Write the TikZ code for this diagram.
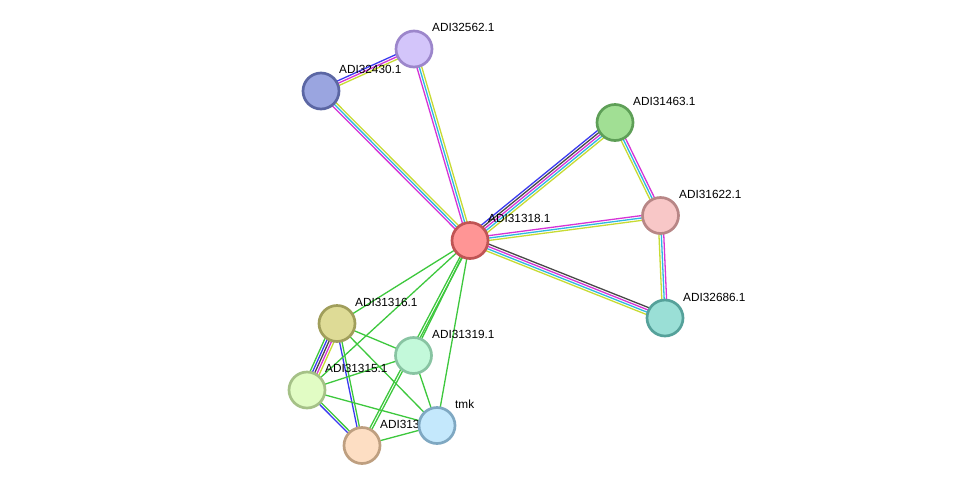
\documentclass[tikz,border=0pt]{standalone}
\usepackage{fontspec}
\setmainfont{Liberation Sans}
\usetikzlibrary{calc}
\pgfdeclarelayer{edges}
\pgfdeclarelayer{labels}
\pgfsetlayers{edges,labels,main}
\definecolor{emag}{HTML}{D633D6}
\definecolor{ecya}{HTML}{2FB8E0}
\definecolor{eyel}{HTML}{C7DB33}
\definecolor{eblu}{HTML}{3A3AF0}
\definecolor{egry}{HTML}{484848}
\definecolor{egrn}{HTML}{3DC83D}
\tikzset{
  prot/.style={circle, minimum size=36pt, inner sep=0pt, line width=2.7pt},
  lab/.style={anchor=base west, font=\fontsize{11.8}{14}\selectfont, inner sep=0pt, text=black},
  ln/.style={line width=1.3pt},
}
\newcommand{\ledge}[3]{%
  \foreach \cc [count=\ii] in {#3} {\xdef\nlines{\ii}}%
  \foreach \cc [count=\ii] in {#3} {%
    \pgfmathsetmacro\off{(\ii-(\nlines+1)/2)*2.4}%
    \draw[ln,\cc] ($(#1.center)!\off pt!90:(#2.center)$) -- ($(#2.center)!\off pt!-90:(#1.center)$);%
  }%
}
\begin{document}
\begin{tikzpicture}[x=1pt,y=-1pt]
\begin{pgfonlayer}{edges}
\fill[white] (0,0) rectangle (976,491);
\end{pgfonlayer}
\useasboundingbox (0,0) rectangle (976,491);
% proteins
\node[prot, fill={rgb,255:red,211;green,197;blue,250}, draw={rgb,255:red,156;green,134;blue,203}] (n32562) at (414,49) {};
\node[prot, fill={rgb,255:red,154;green,165;blue,224}, draw={rgb,255:red,91;green,102;blue,163}] (n32430) at (321,91) {};
\node[prot, fill={rgb,255:red,161;green,223;blue,148}, draw={rgb,255:red,94;green,159;blue,87}] (n31463) at (615,122.5) {};
\node[prot, fill={rgb,255:red,248;green,199;blue,199}, draw={rgb,255:red,184;green,134;blue,134}] (n31622) at (660.5,215.5) {};
\node[prot, fill={rgb,255:red,255;green,149;blue,149}, draw={rgb,255:red,192;green,84;blue,84}] (n31318) at (470,240.5) {};
\node[prot, fill={rgb,255:red,154;green,223;blue,214}, draw={rgb,255:red,85;green,161;blue,154}] (n32686) at (665,318) {};
\node[prot, fill={rgb,255:red,222;green,219;blue,150}, draw={rgb,255:red,160;green,158;blue,91}] (n31316) at (337,323.5) {};
\node[prot, fill={rgb,255:red,195;green,249;blue,218}, draw={rgb,255:red,136;green,196;blue,162}] (n31319) at (413.5,355.5) {};
\node[prot, fill={rgb,255:red,225;green,252;blue,196}, draw={rgb,255:red,165;green,193;blue,135}] (n31315) at (307,390) {};
\node[prot, fill={rgb,255:red,196;green,232;blue,252}, draw={rgb,255:red,127;green,168;blue,194}] (ntmk) at (437,425.5) {};
\node[prot, fill={rgb,255:red,253;green,222;blue,195}, draw={rgb,255:red,190;green,159;blue,128}] (n313b) at (362,445.5) {};
% labels
\begin{pgfonlayer}{labels}
\node[lab] (l32562) at (432,31.5) {ADI32562.1};
\node[lab] (l32430) at (339,73.5) {ADI32430.1};
\node[lab] (l31463) at (633,105) {ADI31463.1};
\node[lab] (l31622) at (679,198) {ADI31622.1};
\node[lab] (l31318) at (488,222.5) {ADI31318.1};
\node[lab] (l32686) at (683,301) {ADI32686.1};
\node[lab] (l31316) at (355,306) {ADI31316.1};
\node[lab] (l31319) at (432,338) {ADI31319.1};
\node[lab] (l31315) at (325,372.5) {ADI31315.1};
\node[lab] (ltmk) at (455,408) {tmk};
\node[lab] (l313b) at (380,428) {ADI313};
\end{pgfonlayer}
% edges
\begin{pgfonlayer}{edges}
\ledge{n32430}{n32562}{eyel,emag,eblu}
\ledge{n32430}{n31318}{emag,ecya,eyel}
\ledge{n32562}{n31318}{emag,ecya,eyel}
\ledge{n31318}{n31463}{eyel,ecya,emag,egry,eblu}
\ledge{n31463}{n31622}{eyel,ecya,emag}
\ledge{n31318}{n31622}{eyel,ecya,emag}
\ledge{n31318}{n32686}{eyel,ecya,emag,egry}
\ledge{n31622}{n32686}{eyel,ecya,emag}
\ledge{n31316}{n31315}{egrn,eblu,egry,emag,eyel}
\ledge{n31316}{n313b}{eblu,egrn}
\ledge{n31315}{n313b}{eblu,egrn}
\ledge{n31318}{n31316}{egrn}
\ledge{n31318}{n31315}{egrn}
\ledge{n31318}{n31319}{egrn}
\ledge{n31318}{n313b}{egrn,egrn}
\ledge{n31318}{ntmk}{egrn}
\ledge{n31316}{n31319}{egrn}
\ledge{n31316}{ntmk}{egrn}
\ledge{n31315}{n31319}{egrn}
\ledge{n31315}{ntmk}{egrn}
\ledge{n31319}{ntmk}{egrn}
\ledge{n313b}{ntmk}{egrn}
\end{pgfonlayer}
\end{tikzpicture}
\end{document}
